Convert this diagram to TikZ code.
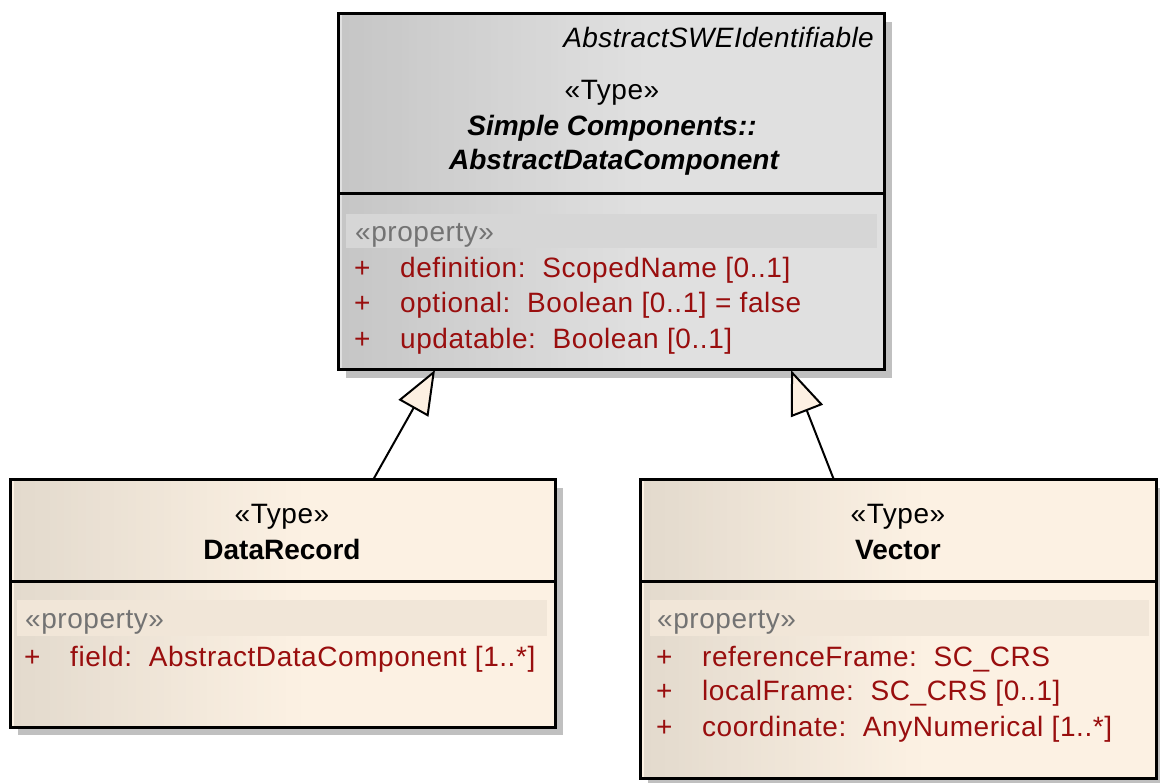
\documentclass[tikz,border=0pt]{standalone}
\usepackage{fontspec}
\setmainfont{Liberation Sans}[LetterSpace=2.0, BoldFeatures={LetterSpace=0}, BoldItalicFeatures={LetterSpace=0}, ItalicFeatures={LetterSpace=1.4}]
\usetikzlibrary{arrows.meta,shadows}
\definecolor{graylight}{HTML}{E0E0E0}
\definecolor{graydark}{HTML}{C6C6C6}
\definecolor{grayband}{HTML}{D6D6D6}
\definecolor{creamlight}{HTML}{FCF1E3}
\definecolor{creamdark}{HTML}{E3DACD}
\definecolor{creamband}{HTML}{F1E6D8}
\definecolor{attrred}{HTML}{990E0E}
\definecolor{stereogray}{HTML}{737373}
\definecolor{shadowgray}{HTML}{C0C0C0}
\definecolor{arrowfill}{HTML}{FDF0E2}
\newcommand\hgradfill[6]{%
  \foreach \k in {0,...,39}{%
    \pgfmathsetmacro\xa{#1+(#3-#1)*\k/40}%
    \pgfmathsetmacro\xb{#1+(#3-#1)*(\k+1)/40+0.6}%
    \pgfmathsetmacro\pp{100-2.5*\k}%
    \fill[#5!\pp!#6] (\xa,#2) rectangle (\xb,#4);}}
\tikzset{
  classbox/.style={draw=black, line width=3pt, rectangle, inner sep=0pt, outer sep=0pt, anchor=north west,
    drop shadow={shadow xshift=8pt, shadow yshift=-8pt, fill=shadowgray, opacity=1}},
  divider/.style={draw=black, line width=3pt},
  txt/.style={inner sep=0pt, anchor=base, font=\fontsize{28}{33}\selectfont},
  txtw/.style={txt, anchor=base west},
  attr/.style={txtw, text=attrred},
  stereo/.style={txtw, text=stereogray},
  gen/.style={draw=black, line width=2pt,
    -{Triangle[open, length=44pt, width=34pt, fill=arrowfill, line width=2pt]}}
}
\begin{document}
\begin{tikzpicture}[x=1pt, y=-1pt]
\useasboundingbox (0,0) rectangle (1160,783);

% ---- boxes
\node[classbox, fill=graylight, minimum width=546pt, minimum height=356pt] (abs) at (338,14) {};
\node[classbox, fill=creamlight, minimum width=545pt, minimum height=247pt] (dr) at (10,480) {};
\node[classbox, fill=creamlight, minimum width=516pt, minimum height=298pt] (vec) at (640,480) {};

% ---- left-side gradients
\hgradfill{342}{15.5}{640}{368.5}{graydark}{graylight}
\hgradfill{14}{481.5}{300}{725.5}{creamdark}{creamlight}
\hgradfill{644}{481.5}{920}{776.5}{creamdark}{creamlight}

% ---- property bands
\fill[grayband] (346,214) rectangle (877,248);
\fill[creamband] (17,600) rectangle (547,636);
\fill[creamband] (650,600) rectangle (1149,636);

% ---- dividers and borders
\draw[divider] (abs.west |- 0,194) -- (abs.east |- 0,194);
\draw[divider] (dr.west |- 0,581) -- (dr.east |- 0,581);
\draw[divider] (vec.west |- 0,581) -- (vec.east |- 0,581);
\draw[divider] (abs.north west) rectangle (abs.south east);
\draw[divider] (dr.north west) rectangle (dr.south east);
\draw[divider] (vec.north west) rectangle (vec.south east);

% ---- top class texts
\node[txt, anchor=base east] (absparent) at (874,48) {\itshape AbstractSWEIdentifiable};
\node[txt] (abstype) at (612,100) {«Type»};
\node[txt] (absname1) at (612,136) {\bfseries\itshape Simple Components::};
\node[txt] (absname2) at (614,170) {\bfseries\itshape AbstractDataComponent};
\node[stereo] (absprop) at (355,242) {«property»};
\node[attr] (absp1) at (354,278) {+};
\node[attr] (absa1) at (400,278) {definition:\ \ ScopedName [0..1]};
\node[attr] (absp2) at (354,313) {+};
\node[attr] (absa2) at (400,313) {optional:\ \ Boolean [0..1] = false};
\node[attr] (absp3) at (354,349) {+};
\node[attr] (absa3) at (400,349) {updatable:\ \ Boolean [0..1]};

% ---- DataRecord texts
\node[txt] (drtype) at (282,523) {«Type»};
\node[txt] (drname) at (282,559) {\bfseries DataRecord};
\node[stereo] (drprop) at (25,628) {«property»};
\node[attr] (drp1) at (24,666) {+};
\node[attr] (dra1) at (70,666) {field:\ \ AbstractDataComponent [1..*]};

% ---- Vector texts
\node[txt] (vectype) at (898,523) {«Type»};
\node[txt] (vecname) at (898,559) {\bfseries Vector};
\node[stereo] (vecprop) at (657,628) {«property»};
\node[attr] (vecp1) at (656,666) {+};
\node[attr] (veca1) at (702,666) {referenceFrame:\ \ SC\_CRS};
\node[attr] (vecp2) at (656,700) {+};
\node[attr] (veca2) at (702,700) {localFrame:\ \ SC\_CRS [0..1]};
\node[attr] (vecp3) at (656,736) {+};
\node[attr] (veca3) at (702,736) {coordinate:\ \ AnyNumerical [1..*]};

% ---- generalisations
\draw[gen] ([xshift=363pt]dr.north west) -- ([xshift=97pt]abs.south west);
\draw[gen] ([xshift=194pt]vec.north west) -- ([xshift=453pt]abs.south west);
\end{tikzpicture}
\end{document}
